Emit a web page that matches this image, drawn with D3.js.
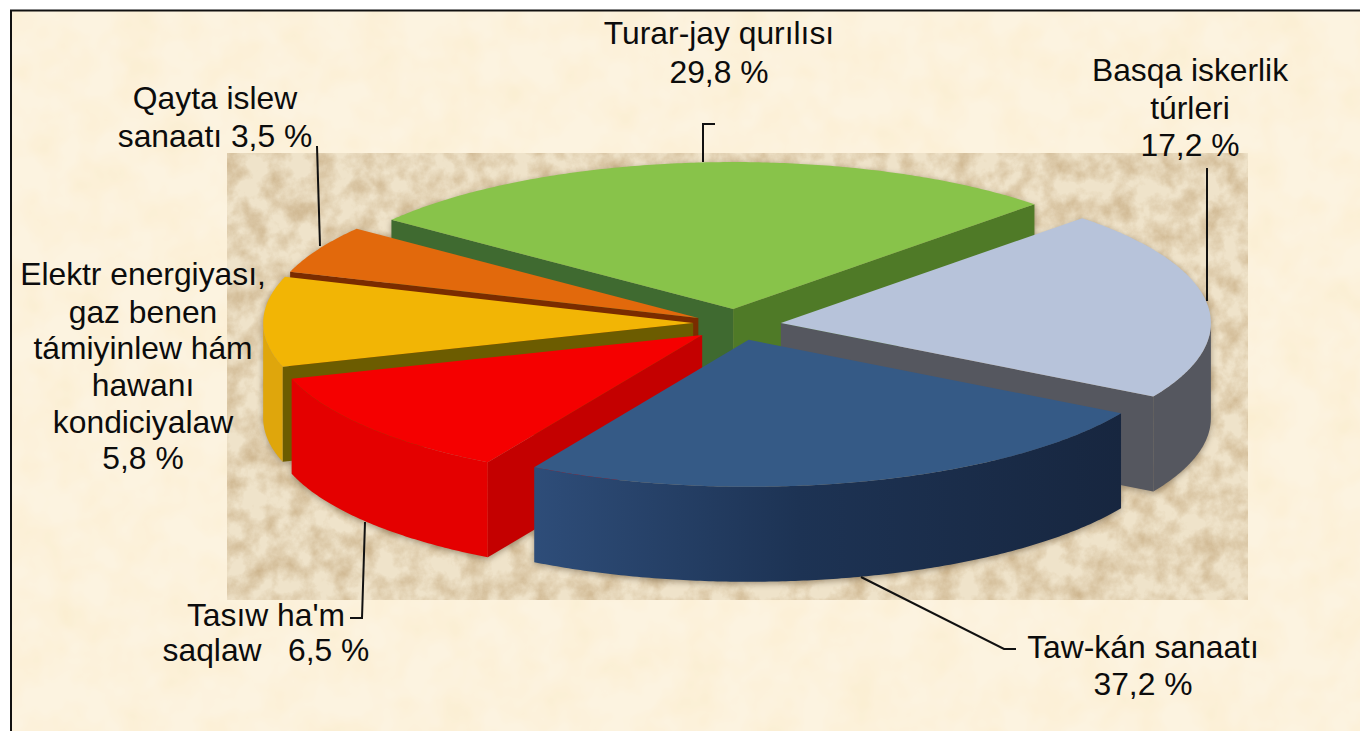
<!DOCTYPE html>
<html>
<head>
<meta charset="utf-8">
<title>Pie</title>
<script src="https://cdnjs.cloudflare.com/ajax/libs/d3/7.8.5/d3.min.js"></script>
<style>
  html, body { margin: 0; padding: 0; background: #fff; overflow: hidden; }
  svg { display: block; }
  text { font-family: "Liberation Sans", Arial, sans-serif; font-size: 31.8px; fill: #0c0c0c; white-space: pre; }
</style>
</head>
<body>
<div id="chart"></div>
<script>
// Percentages as printed on the labels
const sliceNames = ['Taw-kán sanaatı', 'Tasıw ha\'m saqlaw', 'Elektr energiyası, gaz benen támiyinlew hám hawanı kondiciyalaw', 'Qayta islew sanaatı', 'Turar-jay qurılısı', 'Basqa iskerlik túrleri'];
const printedShares = [37.2, 6.5, 5.8, 3.5, 29.8, 17.2];
// The slices in the picture are not drawn to the printed numbers, so these are read off the drawing
const drawnShares = [25.0, 11.9, 9.9, 5.3, 27.0, 21.0];

const topColors = ['#355a86', '#f50000', '#f2b505', '#e2690c', '#88c34a', '#b7c3da'];
const rimColors = ['url(#blueWall)', '#e40000', '#dfa60c', '#b5520a', '#6f9c3a', '#55575f'];
const cutColors = ['#1b2f4f', '#c40000', '#6c5c00', '#7a2c00', '#3f6a30', '#55575f'];
const cutColors2 = ['#1b2f4f', '#c40000', '#6c5c00', '#7a2c00', '#4f7a27', '#55575f'];

// how far each slice is pulled out of the pie, in radius units
const sliceShift = [[0.055, 0.121], [-0.053, 0.088], [-0.074, 0.007], [-0.062, -0.027], [0.019, -0.088], [0.13, 0.007]];

const width = 1360;
const height = 731;
const centerX = 725;
const centerY = 322;
const radiusX = 430;
const radiusY = 147;
const depth = 95;

const svg = d3.select('#chart').append('svg')
  .attr('width', width)
  .attr('height', height);

const defs = svg.append('defs');

// Paper texture, a tint whose opacity follows the noise
function addPaper(id, freq, octaves, seed, tint, gain, offset) {
  const f = defs.append('filter')
    .attr('id', id)
    .attr('x', 0).attr('y', 0).attr('width', 1).attr('height', 1)
    .attr('color-interpolation-filters', 'sRGB');
  f.append('feTurbulence')
    .attr('type', 'fractalNoise')
    .attr('baseFrequency', freq)
    .attr('numOctaves', octaves)
    .attr('seed', seed);
  f.append('feColorMatrix')
    .attr('type', 'matrix')
    .attr('values', `0 0 0 0 ${tint[0]}  0 0 0 0 ${tint[1]}  0 0 0 0 ${tint[2]}  ${gain} 0 0 0 ${offset}`);
}
addPaper('paperLight', 0.025, 3, 4, [0.98, 0.9, 0.72], 0.6, -0.2);
addPaper('paperDark', 0.045, 5, 9, [0.74, 0.62, 0.44], 1.2, -0.42);

const blueWall = defs.append('linearGradient')
  .attr('id', 'blueWall')
  .attr('gradientUnits', 'userSpaceOnUse')
  .attr('x1', 533).attr('x2', 1123).attr('y1', 0).attr('y2', 0);
blueWall.append('stop').attr('offset', '0').attr('stop-color', '#2e4d79');
blueWall.append('stop').attr('offset', '0.45').attr('stop-color', '#1d3354');
blueWall.append('stop').attr('offset', '1').attr('stop-color', '#17263f');

// Background
svg.append('rect').attr('x', 12).attr('y', 11).attr('width', width - 12).attr('height', height - 11).attr('fill', '#fcf3e0');
svg.append('rect').attr('x', 12).attr('y', 11).attr('width', width - 12).attr('height', height - 11).attr('filter', 'url(#paperLight)');
svg.append('rect').attr('x', 227).attr('y', 153).attr('width', 1021).attr('height', 447).attr('fill', '#efe3ca');
svg.append('rect').attr('x', 227).attr('y', 153).attr('width', 1021).attr('height', 447).attr('filter', 'url(#paperDark)');

// Frame
svg.append('path')
  .attr('d', 'M11,731V10.5H1360')
  .attr('fill', 'none')
  .attr('stroke', '#111')
  .attr('stroke-width', 2);

// Pie
const x = d3.scaleLinear().domain([-1, 1]).range([centerX - radiusX, centerX + radiusX]);
const y = d3.scaleLinear().domain([-1, 1]).range([centerY - radiusY, centerY + radiusY]);
const line = d3.line().x(d => d[0]).y(d => d[1]);

const startAngle = 2 * Math.PI / 3;
const arcs = d3.pie().sort(null).startAngle(startAngle).endAngle(startAngle + 2 * Math.PI)
  .value(d => d)(drawnShares);

function pt(angle, r, shift, z) {
  return [
    x(r * Math.sin(angle) + shift[0]),
    y(-r * Math.cos(angle) + shift[1]) + z
  ];
}

function arcPoints(a0, a1, shift, z) {
  const n = Math.max(2, Math.ceil(Math.abs(a1 - a0) / 0.01));
  return d3.range(n + 1).map(i => pt(a0 + (a1 - a0) * i / n, 1, shift, z));
}

// A cut wall is seen only if its normal points at the viewer (south)
function facesViewer(normal) {
  return Math.cos(normal) < 0;
}

// back to front
const drawOrder = [4, 3, 2, 1, 5, 0];
const pie = svg.append('g').style('filter', 'drop-shadow(0 2px 3px rgba(70,50,25,0.45))');

drawOrder.forEach(i => {
  const a = arcs[i];
  const shift = sliceShift[i];
  const g = pie.append('g');

  // cut walls
  [[a.startAngle, a.startAngle - Math.PI / 2, cutColors[i]], [a.endAngle, a.endAngle + Math.PI / 2, cutColors2[i]]]
    .filter(w => facesViewer(w[1]))
    .forEach(w => {
      g.append('path')
        .attr('d', line([pt(0, 0, shift, 0), pt(w[0], 1, shift, 0), pt(w[0], 1, shift, depth), pt(0, 0, shift, depth)]) + 'Z')
        .attr('fill', w[2]);
    });

  // outer wall, front half of the circle only
  let lo = a.startAngle;
  let hi = a.endAngle;
  if (lo > Math.PI * 2) { lo -= Math.PI * 2; hi -= Math.PI * 2; }
  lo = Math.max(lo, Math.PI / 2);
  hi = Math.min(hi, Math.PI * 1.5);
  if (hi > lo) {
    const wall = arcPoints(lo, hi, shift, 0).concat(arcPoints(hi, lo, shift, depth));
    g.append('path')
      .attr('d', line(wall) + 'Z')
      .attr('fill', rimColors[i]);
  }

  // top face
  const top = [pt(0, 0, shift, 0)].concat(arcPoints(a.startAngle, a.endAngle, shift, 0));
  g.append('path')
    .attr('d', line(top) + 'Z')
    .attr('fill', topColors[i]);
});

// Leader lines
const leaders = [
  [[703, 162], [703, 124], [715, 124]],
  [[1207, 168], [1207, 301]],
  [[317, 146], [320, 246]],
  [[365, 522], [362, 618], [350, 618]],
  [[861, 577], [1004, 649], [1016, 649]]
];
svg.append('g').selectAll('path')
  .data(leaders)
  .enter().append('path')
  .attr('d', line)
  .attr('fill', 'none')
  .attr('stroke', '#111')
  .attr('stroke-width', 2);

// Labels, %v stands for the printed share of the slice
const labelLayout = [
  { slice: 4, cx: 719, lines: [['Turar-jay qurılısı', 44], ['%v', 83]] },
  { slice: 5, cx: 1190, lines: [['Basqa iskerlik', 81], ['túrleri', 119], ['%v', 156]] },
  { slice: 3, cx: 215, lines: [['Qayta islew', 109], ['sanaatı %v', 147]] },
  { slice: 2, cx: 143, lines: [['Elektr energiyası,', 285], ['gaz benen', 323], ['támiyinlew hám', 359], ['hawanı', 396], ['kondiciyalaw', 433], ['%v', 469]] },
  { slice: 1, cx: 266, lines: [['Tasıw ha\'m', 626], ['saqlaw   %v', 661]] },
  { slice: 0, cx: 1143, lines: [['Taw-kán sanaatı', 658], ['%v', 695]] }
];
const shareText = v => d3.format('.1f')(v).replace('.', ',') + ' %';

labelLayout.forEach(l => {
  l.lines.forEach(t => {
    svg.append('text')
      .attr('x', l.cx)
      .attr('y', t[1])
      .attr('text-anchor', 'middle')
      .text(t[0].replace('%v', shareText(printedShares[l.slice])));
  });
});
</script>
</body>
</html>
